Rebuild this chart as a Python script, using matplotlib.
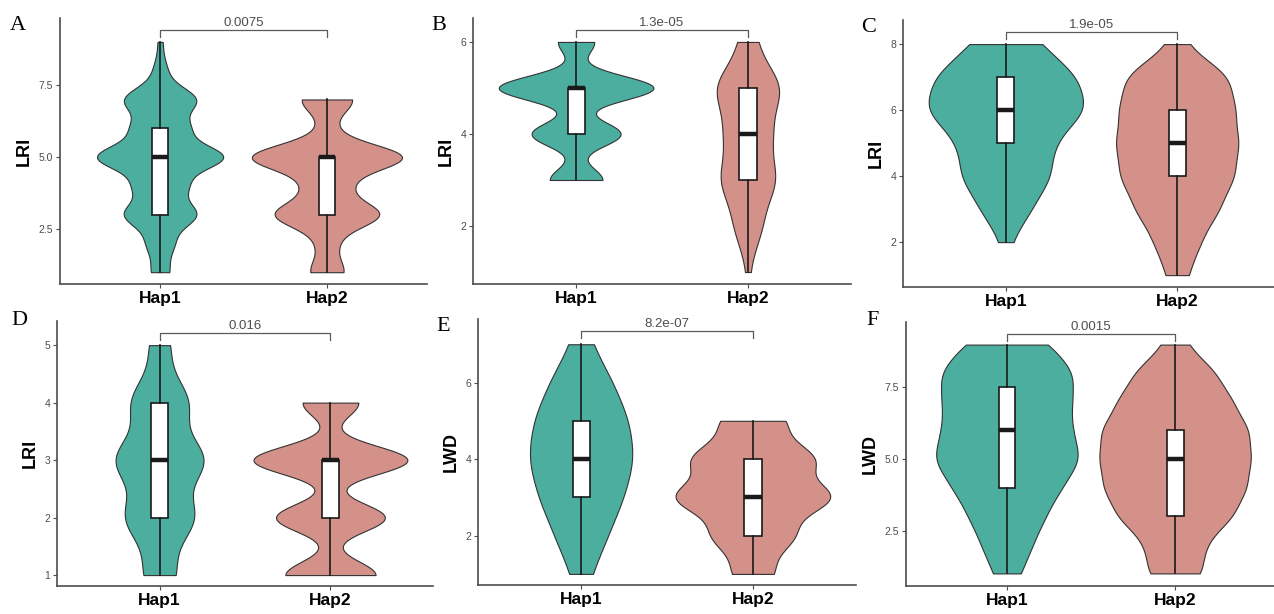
import matplotlib
matplotlib.use('Agg')
import matplotlib.pyplot as plt
import matplotlib.transforms as mtransforms
import numpy as np

plt.rcParams['font.family'] = ['Liberation Sans', 'DejaVu Sans']

# integer trait values and number of plants per value, per haplotype
a_vals1 = [1, 2, 3, 4, 5, 6, 7, 8, 9]
a_hap1 = [30, 45, 122, 85, 215, 92, 122, 22, 8]
a_vals2 = [1, 2, 3, 4, 5, 6, 7]
a_hap2 = [20, 11, 63, 24, 92, 8, 31]

b_vals1 = [3, 4, 5, 6]
b_hap1 = [16, 27, 47, 11]
b_vals2 = [1, 2, 3, 4, 5, 6]
b_hap2 = [1, 8, 16, 13, 19, 5]

c_vals1 = [2, 3, 4, 5, 6, 7, 8]
c_hap1 = [1, 5, 9, 9, 16, 14, 7]
c_vals2 = [1, 2, 3, 4, 5, 6, 7, 8]
c_hap2 = [3, 6, 11, 15, 16, 15, 14, 2]

d_vals1 = [1, 2, 3, 4, 5]
d_hap1 = [11, 24, 31, 20, 7]
d_vals2 = [1, 2, 3, 4]
d_hap2 = [34, 41, 58, 21]

e_vals1 = [1, 2, 3, 4, 5, 6, 7]
e_hap1 = [2, 5, 8, 10, 9, 6, 2]
e_vals2 = [1, 2, 3, 4, 5]
e_hap2 = [7, 14, 27, 21, 11]

f_vals1 = [1, 2, 3, 4, 5, 6, 7, 8, 9]
f_hap1 = [10, 18, 27, 38, 53, 45, 45, 48, 31]
f_vals2 = [1, 2, 3, 4, 5, 6, 7, 8, 9]
f_hap2 = [22, 22, 45, 55, 58, 57, 44, 32, 9]

groups = ['Hap1', 'Hap2']
panel_letters = ['A', 'B', 'C', 'D', 'E', 'F']
ylabels = ['LRI', 'LRI', 'LRI', 'LRI', 'LWD', 'LWD']
pvalues = ['0.0075', '1.3e-05', '1.9e-05', '0.016', '8.2e-07', '0.0015']
yticks = [[2.5, 5.0, 7.5], [2, 4, 6], [2, 4, 6, 8], [1, 2, 3, 4, 5], [2, 4, 6], [2.5, 5.0, 7.5]]
ylims = [(0.59, 9.83), (0.74, 6.52), (0.64, 8.73), (0.81, 5.42), (0.71, 7.66), (0.56, 9.79)]

panels = [
    (a_vals1, a_hap1, a_vals2, a_hap2),
    (b_vals1, b_hap1, b_vals2, b_hap2),
    (c_vals1, c_hap1, c_vals2, c_hap2),
    (d_vals1, d_hap1, d_vals2, d_hap2),
    (e_vals1, e_hap1, e_vals2, e_hap2),
    (f_vals1, f_hap1, f_vals2, f_hap2),
]

# axes boxes in pixels: left, top, right, bottom
boxes = [(60, 18, 427, 284), (473, 18, 851, 284), (903, 20, 1280, 287),
         (57, 321, 433, 586), (478, 319, 856, 585), (906, 322, 1276, 586)]
letter_pos = [(10, 16), (431, 16), (861, 18), (11, 311), (436, 317), (866, 311)]

fill_colors = ['#4BAE9E', '#D4918A']
W, H = 1274, 614


def bw_nrd0(x):
    hi = np.std(x, ddof=1)
    q75, q25 = np.percentile(x, [75, 25])
    lo = min(hi, (q75 - q25) / 1.34)
    if lo == 0:
        lo = hi
    return 0.9 * lo * len(x) ** -0.2


def violin_density(vals, counts):
    vals = np.asarray(vals, float)
    counts = np.asarray(counts, float)
    x = np.repeat(vals, counts.astype(int))
    h = bw_nrd0(x)
    grid = np.linspace(x.min(), x.max(), 512)
    k = np.exp(-0.5 * ((grid[:, None] - vals[None, :]) / h) ** 2)
    dens = (k * counts).sum(1) / (counts.sum() * h * np.sqrt(2 * np.pi))
    return x, grid, dens


fig = plt.figure(figsize=(W / 100, H / 100), dpi=100)

for i, (v1, c1, v2, c2) in enumerate(panels):
    l, t, r, b = boxes[i]
    ax = fig.add_axes([l / W, 1 - b / H, (r - l) / W, (b - t) / H])

    raw = []
    curves = []
    for vals, counts in [(v1, c1), (v2, c2)]:
        x, grid, dens = violin_density(vals, counts)
        raw.append(x)
        curves.append((grid, dens))
    dmax = max(d.max() for _, d in curves)

    for j, (grid, dens) in enumerate(curves):
        half = 0.45 * dens / dmax
        ax.fill_betweenx(grid, j + 1 - half, j + 1 + half, facecolor=fill_colors[j],
                         edgecolor='#333333', linewidth=0.8, zorder=1)

    ax.boxplot(raw, positions=[1, 2], widths=0.1, whis=1.5, showcaps=False,
               showfliers=False, patch_artist=True, zorder=2,
               boxprops=dict(facecolor='white', edgecolor='#1a1a1a', linewidth=1.2),
               whiskerprops=dict(color='#1a1a1a', linewidth=1.2),
               medianprops=dict(color='#1a1a1a', linewidth=3.2, solid_capstyle='butt'))

    ax.set_xlim(0.4, 2.6)
    ax.set_ylim(*ylims[i])
    ax.set_xticks([1, 2])
    ax.set_xticklabels(groups, fontsize=12.5, fontweight='bold', color='black')
    ax.set_yticks(yticks[i])
    ax.set_yticklabels([str(v) for v in yticks[i]], fontsize=7.5, color='#4D4D4D')
    ax.set_ylabel(ylabels[i], fontsize=13, fontweight='bold', labelpad=4)
    ax.tick_params(axis='both', color='#4D4D4D', length=3, width=0.8, pad=2)
    for side in ['top', 'right']:
        ax.spines[side].set_visible(False)
    for side in ['left', 'bottom']:
        ax.spines[side].set_color('#4D4D4D')
        ax.spines[side].set_linewidth(1.2)

    # significance bracket
    trans = mtransforms.blended_transform_factory(ax.transData, ax.transAxes)
    ax.plot([1, 1, 2, 2], [0.928, 0.955, 0.955, 0.928], color='#5a5a5a', linewidth=0.9,
            transform=trans, clip_on=False)
    ax.text(1.5, 0.957, pvalues[i], transform=trans, ha='center', va='bottom',
            fontsize=9.5, color='#4D4D4D')

    lx, ly = letter_pos[i]
    fig.text(lx / W, 1 - ly / H, panel_letters[i], fontsize=16, va='top', ha='left',
             family='Liberation Serif')

fig.savefig('out.png', dpi=100)
